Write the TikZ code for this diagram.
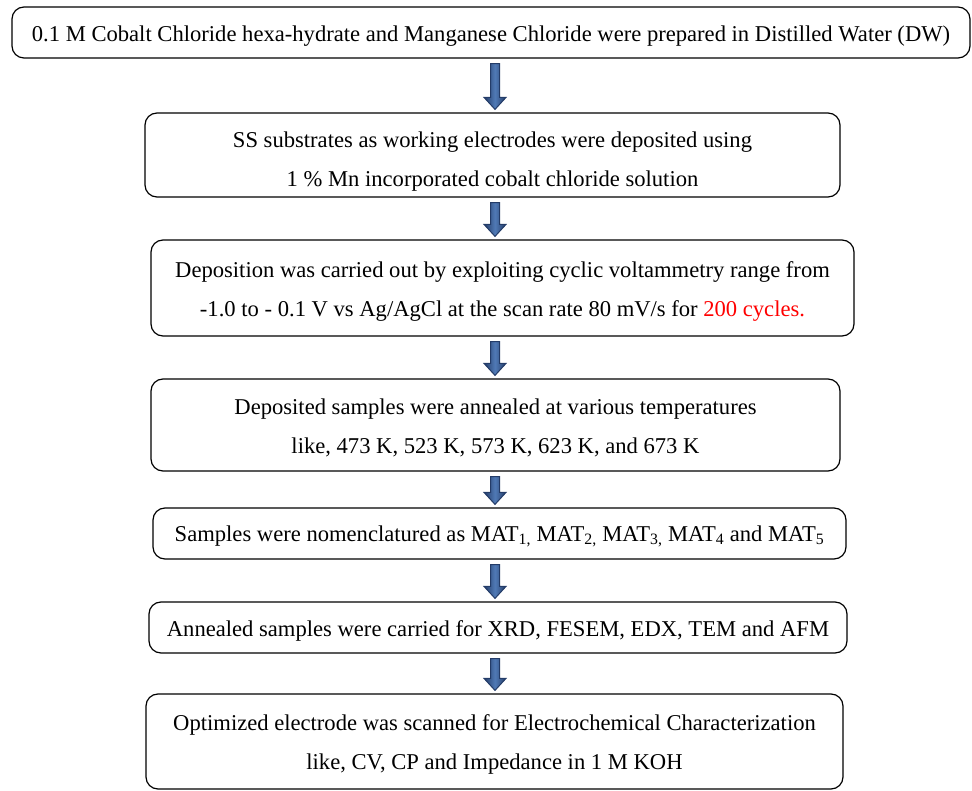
\documentclass[tikz,border=0pt]{standalone}
\usepackage{fontspec}
\setmainfont{Liberation Serif}
\usetikzlibrary{calc}
\definecolor{arrowdark}{RGB}{36,60,104}
\definecolor{arrowmid}{RGB}{80,122,182}
\newcommand{\lowone}{\rule{0pt}{22pt}}
\newcommand{\lowtwo}{\rule{0pt}{28pt}}
\tikzset{
  stepbox/.style={draw, rounded corners=12pt, line width=1.2pt, align=center, inner sep=0pt, font=\fontsize{22.6}{39}\selectfont},
  arrowbody/.style={draw=arrowdark, line width=1pt, left color=arrowdark, right color=arrowdark, middle color=arrowmid}
}
\newcommand{\flowarrow}[2]{%
  \path[arrowbody] let \p1=(#1.south), \p2=(#2.north), \p3=(ax) in
    (\x3-4.5pt,\y1-5pt) -- (\x3+4.5pt,\y1-5pt) -- (\x3+4.5pt,\y2+15pt) -- (\x3+11pt,\y2+15pt)
    -- (\x3,\y2+3pt) -- (\x3-11pt,\y2+15pt) -- (\x3-4.5pt,\y2+15pt) -- cycle;}
\begin{document}
\begin{tikzpicture}[x=1pt, y=-1pt]
\useasboundingbox (0,0) rectangle (972,791);
\coordinate (ax) at (495,0);
\node[stepbox, minimum width=958pt, minimum height=51pt] (s1) at (491,32.5) {\lowone 0.1 M Cobalt Chloride hexa-hydrate and Manganese Chloride were prepared in Distilled Water (DW)};
\node[stepbox, minimum width=695pt, minimum height=84pt] (s2) at (492.5,155) {\lowtwo SS substrates as working electrodes were deposited using\\1 \% Mn incorporated cobalt chloride solution};
\node[stepbox, minimum width=703pt, minimum height=96pt] (s3) at (502.5,288) {\lowone Deposition was carried out by exploiting cyclic voltammetry range from\\-1.0 to - 0.1 V vs Ag/AgCl at the scan rate 80 mV/s for \textcolor{red}{200 cycles.}};
\node[stepbox, minimum width=689pt, minimum height=92pt] (s4) at (495.5,425) {\lowone Deposited samples were annealed at various temperatures\\like, 473 K, 523 K, 573 K, 623 K, and 673 K};
\node[stepbox, minimum width=693pt, minimum height=51pt] (s5) at (499.5,533.5) {\lowone Samples were nomenclatured as MAT\textsubscript{1,} MAT\textsubscript{2,} MAT\textsubscript{3,} MAT\textsubscript{4} and MAT\textsubscript{5}};
\node[stepbox, minimum width=698pt, minimum height=51pt] (s6) at (498,627.5) {\lowone Annealed samples were carried for XRD, FESEM, EDX, TEM and AFM};
\node[stepbox, minimum width=697pt, minimum height=95pt] (s7) at (494.5,741.5) {\lowone Optimized electrode was scanned for Electrochemical Characterization\\like, CV, CP and Impedance in 1 M KOH};
\flowarrow{s1}{s2}
\flowarrow{s2}{s3}
\flowarrow{s3}{s4}
\flowarrow{s4}{s5}
\flowarrow{s5}{s6}
\flowarrow{s6}{s7}
\end{tikzpicture}
\end{document}
